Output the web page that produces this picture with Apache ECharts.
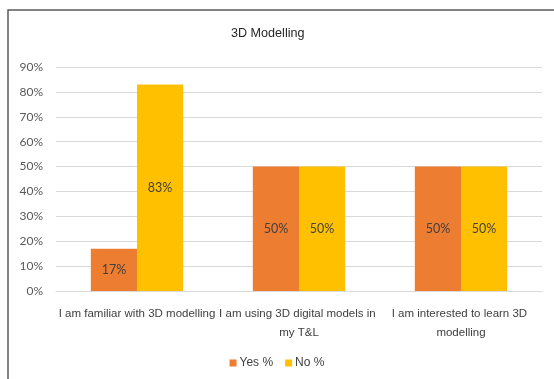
<!DOCTYPE html>
<html>
<head>
<meta charset="utf-8">
<script src="https://cdn.jsdelivr.net/npm/echarts@6/dist/echarts.min.js"></script>
<style>
  html, body { margin: 0; padding: 0; background: #fff; }
  #chart { width: 554px; height: 379px; }
</style>
</head>
<body>
<div id="chart"></div>
<script>
// Survey statements and response shares (percent)
const categories = [
  'I am familiar with 3D modelling',
  'I am using 3D digital models in my T&L',
  'I am interested to learn 3D modelling'
];
const yesValues = [17, 50, 50];
const noValues = [83, 50, 50];
const seriesNames = ['Yes %', 'No %'];

const textFont = '"Liberation Sans Narrow", "Liberation Sans", Arial, sans-serif';
const numFont = 'Lato, "Open Sans", sans-serif';

const chart = echarts.init(document.getElementById('chart'), null, { renderer: 'canvas' });

const labelStyle = {
  show: true,
  position: 'inside',
  formatter: '{c}%',
  color: '#404040',
  fontFamily: numFont,
  fontSize: 12.5
};

chart.setOption({
  backgroundColor: '#ffffff',
  animation: false,
  graphic: [{
    type: 'rect',
    shape: { x: 8, y: 10, width: 600, height: 400 },
    style: { fill: 'none', stroke: '#595959', lineWidth: 1.5 },
    silent: true
  }],
  title: {
    text: '3D Modelling',
    left: 231,
    top: 27,
    padding: 0,
    textStyle: {
      fontFamily: textFont,
      fontSize: 12.6,
      fontWeight: 'normal',
      color: '#262626'
    }
  },
  grid: { left: 56, right: 12, top: 67, bottom: 88 },
  legend: {
    data: seriesNames,
    bottom: 5,
    left: 'center',
    itemWidth: 7,
    itemHeight: 7,
    itemGap: 12,
    icon: 'rect',
    textStyle: { fontFamily: textFont, fontSize: 12, color: '#404040', padding: [0, 0, 0, -2] }
  },
  xAxis: {
    type: 'category',
    data: categories,
    axisLine: { lineStyle: { color: '#d9d9d9', width: 1 } },
    axisTick: { show: false },
    axisLabel: {
      interval: 0,
      margin: 13,
      width: 166,
      overflow: 'break',
      lineHeight: 19,
      fontFamily: textFont,
      fontSize: 11.5,
      color: '#404040'
    }
  },
  yAxis: {
    type: 'value',
    min: 0,
    max: 90,
    interval: 10,
    axisLine: { show: false },
    axisTick: { show: false },
    splitLine: { lineStyle: { color: '#d9d9d9', width: 1 } },
    axisLabel: {
      formatter: '{value}%',
      margin: 13,
      fontFamily: numFont,
      fontSize: 12,
      color: '#595959'
    }
  },
  series: [
    {
      name: seriesNames[0],
      type: 'bar',
      data: yesValues,
      barGap: '0%',
      barCategoryGap: '43%',
      itemStyle: { color: '#ed7d31' },
      label: labelStyle
    },
    {
      name: seriesNames[1],
      type: 'bar',
      data: noValues,
      barGap: '0%',
      barCategoryGap: '43%',
      itemStyle: { color: '#ffc000' },
      label: labelStyle
    }
  ]
});
</script>
</body>
</html>
